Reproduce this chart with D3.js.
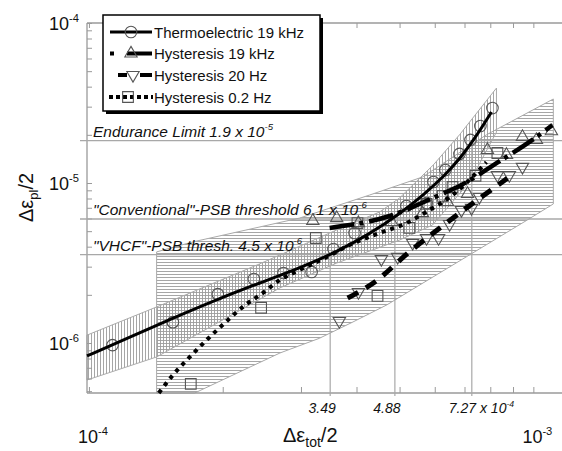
<!DOCTYPE html>
<html>
<head>
<meta charset="utf-8">
<script src="https://cdn.jsdelivr.net/npm/d3@7.9.0/dist/d3.min.js"></script>
<style>
  body { margin: 0; background: #fff; }
  svg { display: block; font-family: "Liberation Sans", Arial, sans-serif; }
</style>
</head>
<body>
<svg id="chart" width="562" height="451"></svg>
<script>
// Data: [strain amplitude total, plastic strain amplitude]
const thermoPoints = [
  [1.13e-4, 9.7e-7], [1.545e-4, 1.35e-6], [1.95e-4, 2.02e-6], [2.35e-4, 2.51e-6],
  [2.74e-4, 2.74e-6], [3.17e-4, 2.78e-6], [3.55e-4, 3.87e-6], [3.96e-4, 4.87e-6],
  [5.18e-4, 7.18e-6], [5.75e-4, 7.5e-6], [5.96e-4, 1.014e-5], [6.34e-4, 1.205e-5],
  [6.82e-4, 1.52e-5], [7.22e-4, 1.86e-5], [7.6e-4, 2.27e-5], [8.09e-4, 2.94e-5]
];
const thermoCurve = [
  [0.99e-4, 8.3e-7], [1.236e-4, 1.09e-6], [1.545e-4, 1.43e-6], [1.95e-4, 1.88e-6],
  [2.42e-4, 2.37e-6], [2.98e-4, 2.94e-6], [3.61e-4, 3.71e-6], [4.28e-4, 4.8e-6],
  [5.0e-4, 6.4e-6], [5.69e-4, 8.54e-6], [6.31e-4, 1.11e-5], [6.82e-4, 1.41e-5],
  [7.37e-4, 1.88e-5], [8.05e-4, 2.78e-5]
];
const hyst19kPoints = [
  [3.19e-4, 5.79e-6], [3.61e-4, 6.04e-6], [4.04e-4, 5.62e-6], [4.8e-4, 5.71e-6],
  [5.63e-4, 6.49e-6], [6.41e-4, 7.6e-6], [7.11e-4, 8.54e-6], [7.88e-4, 1.61e-5],
  [8.7e-4, 1.5e-5], [9.45e-4, 1.94e-5], [1.016e-3, 1.86e-5], [1.098e-3, 2.11e-5]
];
const hyst19kCurve = [
  [3.48e-4, 5.24e-6], [4.75e-4, 6.22e-6], [6.08e-4, 8.3e-6], [6.89e-4, 9.72e-6],
  [8.26e-4, 1.33e-5], [9.95e-4, 1.86e-5], [1.103e-3, 2.3e-5]
];
const hyst20Points = [
  [3.66e-4, 1.37e-6], [4.04e-4, 2.08e-6], [4.55e-4, 3.35e-6], [4.95e-4, 3.45e-6],
  [5.35e-4, 4.22e-6], [5.75e-4, 4.53e-6], [6.12e-4, 4.53e-6], [6.48e-4, 5.54e-6],
  [6.89e-4, 6.78e-6], [7.26e-4, 6.98e-6], [7.56e-4, 8.18e-6], [8.3e-4, 1.12e-5],
  [8.83e-4, 1.12e-5], [9.45e-4, 1.26e-5]
];
const hyst20Curve = [
  [3.82e-4, 1.91e-6], [4.39e-4, 2.4e-6], [5.26e-4, 3.71e-6], [6.37e-4, 5.62e-6], [8.74e-4, 1.07e-5]
];
const hyst02Points = [
  [1.695e-4, 5.55e-7], [2.44e-4, 1.66e-6], [3.24e-4, 4.53e-6], [4.02e-4, 5.62e-6],
  [4.46e-4, 1.97e-6], [5.26e-4, 5.24e-6], [5.75e-4, 7.4e-6], [6.25e-4, 8.3e-6],
  [6.58e-4, 9.44e-6], [7.41e-4, 1.11e-5], [8.3e-4, 1.54e-5]
];
const hyst02Curve = [
  [1.436e-4, 4.87e-7], [1.552e-4, 6.4e-7], [1.695e-4, 8.3e-7], [1.85e-4, 1.06e-6],
  [2.03e-4, 1.35e-6], [2.23e-4, 1.7e-6], [2.46e-4, 2.05e-6], [2.69e-4, 2.48e-6],
  [2.98e-4, 2.86e-6], [3.43e-4, 3.45e-6], [3.86e-4, 4.1e-6], [4.51e-4, 4.87e-6],
  [5.18e-4, 5.62e-6], [5.84e-4, 6.78e-6], [6.58e-4, 8.41e-6], [7.84e-4, 1.35e-5]
];
// scatter bands (outline polygons)
const thermoBand = [
  [0.99e-4, 1.12e-6], [1.42e-4, 1.68e-6], [2.42e-4, 3.12e-6], [3.61e-4, 5.09e-6],
  [4.51e-4, 6.59e-6], [5.0e-4, 8.06e-6], [5.96e-4, 1.3e-5], [6.82e-4, 2.0e-5],
  [8.26e-4, 3.92e-5], [8.26e-4, 2.08e-5], [7.18e-4, 1.01e-5], [5.93e-4, 5.46e-6],
  [5.0e-4, 4.4e-6], [3.61e-4, 3.16e-6], [2.69e-4, 2.21e-6], [1.42e-4, 8.18e-7],
  [0.99e-4, 5.87e-7]
];
const hystBand = [
  [1.42e-4, 3.71e-6], [1.71e-4, 4.28e-6], [2.98e-4, 6.04e-6], [4.28e-4, 8.41e-6],
  [5.63e-4, 1.09e-5], [7.84e-4, 2.0e-5], [1.109e-3, 3.35e-5], [1.109e-3, 7.4e-6],
  [9.69e-4, 5.87e-6], [7.56e-4, 3.87e-6], [5.84e-4, 2.51e-6], [4.68e-4, 1.73e-6],
  [3.92e-4, 1.35e-6], [3.3e-4, 1.07e-6], [2.69e-4, 8.66e-7], [1.73e-4, 4.87e-7],
  [1.42e-4, 4.87e-7]
];
// threshold lines as drawn, with their printed labels
const thresholdValues = [1.84e-5, 5.96e-6, 3.57e-6];
const thresholdLabels = ['Endurance Limit 1.9 x 10', '"Conventional"-PSB threshold 6.1 x 10', '"VHCF"-PSB thresh. 4.5 x 10'];
const thresholdExps = ['-5', '-6', '-6'];
const crossingValues = [3.49e-4, 4.88e-4, 7.27e-4];
const crossingLabels = ['3.49', '4.88', '7.27 x 10'];
const legendNames = ['Thermoelectric 19 kHz', 'Hysteresis 19 kHz', 'Hysteresis 20 Hz', 'Hysteresis 0.2 Hz'];

const plot = { left: 87, right: 562, top: 23, bottom: 393 };
const gray = '#9a9a9a';

const svg = d3.select('#chart');

const x = d3.scaleLog().domain([0.99e-4, 1.16e-3]).range([plot.left, plot.right]);
const y = d3.scaleLog().domain([4.87e-7, 1e-4]).range([plot.bottom, plot.top]);

// hatch patterns
const defs = svg.append('defs');
defs.append('pattern').attr('id', 'hhatch').attr('patternUnits', 'userSpaceOnUse')
  .attr('width', 4).attr('height', 3)
  .append('line').attr('x1', 0).attr('x2', 4).attr('y1', 1.5).attr('y2', 1.5)
  .attr('stroke', '#9c9c9c').attr('stroke-width', 0.9);
defs.append('pattern').attr('id', 'vhatch').attr('patternUnits', 'userSpaceOnUse')
  .attr('width', 3).attr('height', 4)
  .append('line').attr('x1', 1.5).attr('x2', 1.5).attr('y1', 0).attr('y2', 4)
  .attr('stroke', '#9c9c9c').attr('stroke-width', 0.9);

const poly = d3.line().x((d) => x(d[0])).y((d) => y(d[1]));

svg.append('path').attr('d', poly(hystBand) + 'Z')
  .attr('fill', 'url(#hhatch)').attr('stroke', '#aaa').attr('stroke-width', 1);
svg.append('path').attr('d', poly(thermoBand) + 'Z')
  .attr('fill', 'url(#vhatch)').attr('stroke', '#aaa').attr('stroke-width', 1);

// axes (ticks inside)
const decades = [1e-7, 1e-6, 1e-5, 1e-4, 1e-3];
const allTicks = decades.flatMap((k) => d3.range(1, 10).map((m) => m * k));
const xTicks = allTicks.filter((v) => v >= 1e-4 && v <= 1.1e-3);
const yTicks = allTicks.filter((v) => v >= 5e-7 && v <= 1e-4);

function styleAxis(g) {
  g.select('.domain').remove();
  g.selectAll('.tick line').attr('stroke', gray).attr('stroke-width', 1);
  g.selectAll('.tick text').remove();
}
svg.append('g').attr('transform', `translate(0,${plot.bottom})`)
  .call(d3.axisBottom(x).tickValues(xTicks).tickSize(-6)).call(styleAxis);
svg.append('g').attr('transform', `translate(0,${plot.top})`)
  .call(d3.axisTop(x).tickValues(xTicks).tickSize(-5)).call(styleAxis);
svg.append('g').attr('transform', `translate(${plot.left},0)`)
  .call(d3.axisLeft(y).tickValues(yTicks).tickSize(-5)).call(styleAxis);

// frame
const frame = svg.append('g').attr('stroke', gray).attr('stroke-width', 1.3);
frame.append('line').attr('x1', plot.left).attr('x2', plot.left).attr('y1', plot.top).attr('y2', plot.bottom);
frame.append('line').attr('x1', plot.left).attr('x2', plot.right).attr('y1', plot.bottom).attr('y2', plot.bottom);
frame.append('line').attr('x1', plot.left).attr('x2', plot.right).attr('y1', plot.top).attr('y2', plot.top);

// threshold lines
svg.append('g').selectAll('line').data(thresholdValues).join('line')
  .attr('x1', plot.left - 7).attr('x2', plot.right)
  .attr('y1', (d) => y(d)).attr('y2', (d) => y(d))
  .attr('stroke', '#a8a8a8').attr('stroke-width', 1.4);

// vertical lines at the crossings
svg.append('g').selectAll('line').data(crossingValues).join('line')
  .attr('x1', (d) => x(d)).attr('x2', (d) => x(d))
  .attr('y1', plot.bottom + 3).attr('y2', (d, i) => y(thresholdValues[2 - i]))
  .attr('stroke', '#a8a8a8').attr('stroke-width', 1.2);

// text helper with superscript
function powText(g, px, py, base, exp, size, anchor, italic) {
  const t = g.append('text').attr('x', px).attr('y', py)
    .attr('font-size', size).attr('text-anchor', anchor).attr('fill', '#111')
    .attr('font-style', italic ? 'italic' : 'normal');
  t.append('tspan').text(base);
  t.append('tspan').attr('font-size', size * 0.62).attr('dy', -size * 0.42).text(exp);
  return t;
}

const labels = svg.append('g');
thresholdValues.forEach((v, i) => {
  powText(labels, plot.left + 6, y(v) - 4, thresholdLabels[i], thresholdExps[i], 15.5, 'start', true);
});
crossingValues.forEach((v, i) => {
  if (i < 2) {
    labels.append('text').attr('x', x(v) - 8).attr('y', 413).attr('text-anchor', 'middle')
      .attr('font-size', 14).attr('font-style', 'italic').attr('fill', '#111').text(crossingLabels[i]);
  } else {
    powText(labels, x(v) - 23, 413, crossingLabels[i], '-4', 14, 'start', true);
  }
});

// axis decade labels
[1e-4, 1e-5, 1e-6].forEach((v) => {
  powText(labels, 79, y(v) + 6.5, '10', String(Math.round(Math.log10(v))), 18, 'end', false);
});
[1e-4, 1e-3].forEach((v) => {
  powText(labels, x(v) + 4, 443, '10', String(Math.round(Math.log10(v))), 18, 'middle', false);
});

// axis titles
const yt = svg.append('text').attr('transform', 'translate(33,222) rotate(-90)')
  .attr('font-size', 20).attr('fill', '#111');
yt.append('tspan').text('Δε');
yt.append('tspan').attr('font-size', 13).attr('dy', 5).text('pl');
yt.append('tspan').attr('dy', -5).text('/2');
const xt = svg.append('text').attr('x', 283).attr('y', 442)
  .attr('font-size', 20).attr('fill', '#111');
xt.append('tspan').text('Δε');
xt.append('tspan').attr('font-size', 14).attr('dy', 5).text('tot');
xt.append('tspan').attr('dy', -5).text('/2');

// series
const series = [
  { curve: thermoCurve, pts: thermoPoints, shape: 'circle', width: 3, dash: null, interp: d3.curveBasis },
  { curve: hyst19kCurve, pts: hyst19kPoints, shape: 'up', width: 4.5, dash: '25,5,4,6', interp: d3.curveMonotoneX },
  { curve: hyst20Curve, pts: hyst20Points, shape: 'down', width: 5, dash: '12,9', interp: d3.curveMonotoneX },
  { curve: hyst02Curve, pts: hyst02Points, shape: 'square', width: 4, dash: '4,5', interp: d3.curveMonotoneX }
];

const symbolPath = {
  circle: d3.symbol(d3.symbolCircle, 105)(),
  up: d3.symbol(d3.symbolTriangle, 66)(),
  down: d3.symbol(d3.symbolTriangle, 66)(),
  square: d3.symbol(d3.symbolSquare, 115)()
};

function drawMarker(g, shape, px, py) {
  g.append('path').attr('d', symbolPath[shape])
    .attr('transform', `translate(${px},${py})` + (shape === 'down' ? ' rotate(180)' : ''))
    .attr('fill', 'none').attr('stroke', '#555').attr('stroke-width', 1.1);
}

const markG = svg.append('g');
series.forEach((s) => {
  s.pts.forEach((d) => drawMarker(markG, s.shape, x(d[0]), y(d[1])));
});
const lineG = svg.append('g');
series.slice().reverse().forEach((s) => {
  lineG.append('path')
    .attr('d', d3.line().x((d) => x(d[0])).y((d) => y(d[1])).curve(s.interp)(s.curve))
    .attr('fill', 'none').attr('stroke', '#000').attr('stroke-width', s.width)
    .attr('stroke-dasharray', s.dash);
});

// legend
const lg = svg.append('g');
lg.append('rect').attr('x', 106).attr('y', 18).attr('width', 217).attr('height', 96).attr('fill', '#000');
lg.append('rect').attr('x', 103).attr('y', 15).attr('width', 217).attr('height', 96)
  .attr('fill', '#fff').attr('stroke', '#000').attr('stroke-width', 1.5);
const rowY = [32, 53.5, 75, 97];
const legendLines = [
  { x1: 110, x2: 152, dash: null },
  { x1: 110, x2: 152, dash: '4,13,25' },
  { x1: 118, x2: 152, dash: '10,12,12' },
  { x1: 109, x2: 153, dash: '4,3' }
];
const markerX = [131, 131, 133, 128];
series.forEach((s, i) => {
  lg.append('line').attr('x1', legendLines[i].x1).attr('x2', legendLines[i].x2)
    .attr('y1', rowY[i]).attr('y2', rowY[i])
    .attr('stroke', '#000').attr('stroke-width', Math.min(s.width, 4))
    .attr('stroke-dasharray', legendLines[i].dash);
  if (s.shape === 'down') {
    lg.append('rect').attr('x', markerX[i] - 6).attr('y', rowY[i] - 6).attr('width', 12).attr('height', 12).attr('fill', '#fff');
  }
  drawMarker(lg, s.shape, markerX[i], rowY[i]);
  lg.append('text').attr('x', 154).attr('y', rowY[i] + 5.5).attr('font-size', 15)
    .attr('fill', '#111').text(legendNames[i]);
});
</script>
</body>
</html>
